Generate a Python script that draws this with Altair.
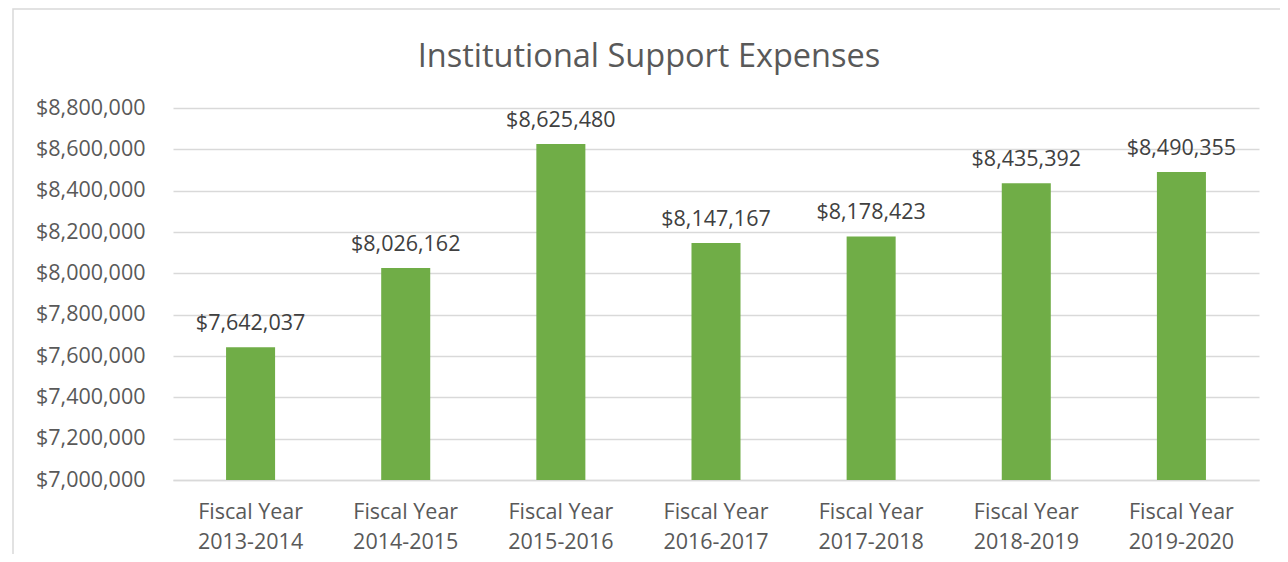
import altair as alt
import pandas as pd

years = ["Fiscal Year 2013-2014", "Fiscal Year 2014-2015", "Fiscal Year 2015-2016",
         "Fiscal Year 2016-2017", "Fiscal Year 2017-2018", "Fiscal Year 2018-2019",
         "Fiscal Year 2019-2020"]
expenses = [7642037, 8026162, 8625480, 8147167, 8178423, 8435392, 8490355]
y_ticks = [7000000, 7200000, 7400000, 7600000, 7800000, 8000000, 8200000, 8400000, 8600000, 8800000]

df = pd.DataFrame({"year": years, "expense": expenses})

FONT = "Open Sans"
FS = 21.5
W, H = 1086, 372

x = alt.X("year:N", sort=years, title=None,
          scale=alt.Scale(paddingInner=0, paddingOuter=0),
          axis=alt.Axis(labelAngle=0, labelFont=FONT, labelFontSize=FS, labelColor="#595959",
                        labelPadding=21, labelLineHeight=30, ticks=False,
                        domainColor="#D9D9D9", domainWidth=1.5,
                        labelExpr="[slice(datum.label, 0, 11), slice(datum.label, 12)]"))
y = alt.Y("expense:Q", title=None,
          scale=alt.Scale(domain=[7000000, 8800000], nice=False, zero=False),
          axis=alt.Axis(values=y_ticks, format="$,.0f", labelFont=FONT, labelFontSize=FS,
                        labelColor="#595959", labelPadding=28, ticks=False, domain=False,
                        gridColor="#D9D9D9", gridWidth=1.5))

bars = alt.Chart(df).mark_bar(color="#70AD47", width={"band": 0.316}).encode(
    x=x, y=y, y2=alt.datum(7000000))
labels = alt.Chart(df).mark_text(font=FONT, fontSize=FS, color="#404040",
                                 baseline="bottom", dy=-12).encode(
    x=alt.X("year:N", sort=years), y="expense:Q", text=alt.Text("expense:Q", format="$,.0f"))

border = alt.Chart(alt.Data(values=[{}])).mark_rect(
    fill=None, stroke="#D9D9D9", strokeWidth=1.5, clip=False).encode(
    x=alt.value(-160), x2=alt.value(1112), y=alt.value(-99), y2=alt.value(480))

chart = alt.layer(border, bars, labels).properties(
    width=W, height=H,
    background="white",
    title=alt.TitleParams("Institutional Support Expenses", font=FONT, fontSize=32.5,
                          fontWeight="normal", color="#595959", anchor="middle",
                          dx=-67, offset=-65),
    padding={"left": 165, "top": 100, "right": 21, "bottom": 74},
    autosize=alt.AutoSizeParams(type="none"),
).configure_view(stroke=None)

chart.save("out.html", embed_options={"renderer": "svg", "actions": False})
